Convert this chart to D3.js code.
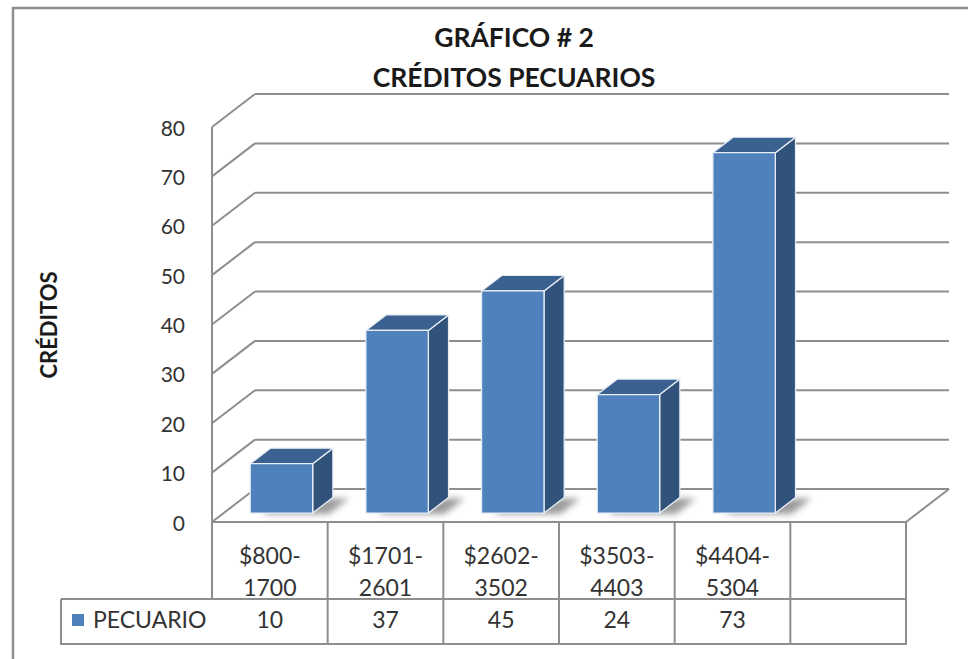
<!DOCTYPE html>
<html>
<head>
<meta charset="utf-8">
<script src="https://cdn.jsdelivr.net/npm/d3@7"></script>
<style>
  body { margin: 0; background: #fff; }
  text { font-family: Lato, "Open Sans", sans-serif; fill: #333; }
</style>
</head>
<body>
<div id="chart"></div>
<script>
// data
const categories = ["$800-1700", "$1701-2601", "$2602-3502", "$3503-4403", "$4404-5304", ""];
const seriesName = "PECUARIO";
const values = [10, 37, 45, 24, 73];
const yTicks = [0, 10, 20, 30, 40, 50, 60, 70, 80];
const titleLines = ["GRÁFICO # 2", "CRÉDITOS PECUARIOS"];
const yTitle = "CRÉDITOS";

const W = 968, H = 659;
const gridColor = "#8e8e8e";

const svg = d3.select("#chart").append("svg")
    .attr("width", W).attr("height", H);

const defs = svg.append("defs");
defs.append("filter").attr("id", "blur")
    .attr("x", "-50%").attr("y", "-50%").attr("width", "200%").attr("height", "200%")
  .append("feGaussianBlur").attr("stdDeviation", 3);

//scales
const x = d3.scaleBand().domain(categories).range([212, 906]).padding(0);
const y = d3.scaleLinear().domain([0, 80]).range([522, 127]);

//depth of the 3d box (offset of the back wall)
const depthX = 43, depthY = -33;
const proj = (px, py, z) => [px + z * depthX, py + z * depthY];

//outer frame
svg.append("path")
    .attr("d", `M13,${H} V8 H${W}`)
    .attr("fill", "none").attr("stroke", gridColor).attr("stroke-width", 2.5);

//title
svg.append("g").selectAll("text").data(titleLines).join("text")
    .attr("x", 514).attr("y", (d, i) => 47 + i * 40)
    .attr("text-anchor", "middle")
    .attr("font-size", 26.5).attr("font-weight", "bold")
    .style("fill", "#1a1a1a")
    .text(d => d);

//y axis title
svg.append("text")
    .attr("transform", "translate(57,325) rotate(-90)")
    .attr("text-anchor", "middle")
    .attr("font-size", 22).attr("font-weight", "bold")
    .style("fill", "#1a1a1a")
    .text(yTitle);

/* Walls */
const walls = svg.append("g").attr("fill", "none")
    .attr("stroke", gridColor).attr("stroke-width", 2);

//back wall gridlines
walls.selectAll(".grid").data(yTicks).join("line")
    .attr("x1", x.range()[0] + depthX).attr("x2", x.range()[1] + depthX)
    .attr("y1", d => y(d) + depthY).attr("y2", d => y(d) + depthY);

//side wall diagonals
walls.selectAll(".diag").data(yTicks).join("line")
    .attr("x1", x.range()[0]).attr("y1", d => y(d))
    .attr("x2", x.range()[0] + depthX).attr("y2", d => y(d) + depthY);

//floor: front edge and right edge
walls.append("path")
    .attr("d", d3.line()([
        [x.range()[0], y(0)],
        [x.range()[1], y(0)],
        [x.range()[1] + depthX, y(0) + depthY]
    ]));

//front vertical axis
walls.append("line")
    .attr("x1", x.range()[0]).attr("x2", x.range()[0])
    .attr("y1", y(80)).attr("y2", y(0));

//tick labels
svg.append("g").selectAll("text").data(yTicks).join("text")
    .attr("x", 185).attr("y", d => y(d) + 8.5)
    .attr("text-anchor", "end")
    .attr("font-size", 21)
    .text(d => d);

/* Bars */
const zFront = 0.27, zBack = 0.74;
const bars = svg.append("g").selectAll("g").data(values).join("g");

const geom = (v, i) => {
    const bw = x.bandwidth();
    const w = bw * 0.54;
    const xl = x(categories[i]) + (bw - w) / 2;
    return {xl, xr: xl + w, yt: y(v), yb: y(0)};
};
const poly = pts => "M" + pts.map(p => p.join(",")).join("L") + "Z";

//soft shadow on the floor
bars.append("path")
    .attr("d", (v, i) => {
        const g = geom(v, i);
        return poly([
            proj(g.xl + 6, g.yb, zFront), proj(g.xr + 10, g.yb, zFront),
            proj(g.xr + 10, g.yb, zBack), proj(g.xl + 6, g.yb, zBack)
        ]);
    })
    .attr("transform", "translate(6,1)")
    .attr("fill", "#7a7a7a").attr("opacity", 0.75)
    .attr("filter", "url(#blur)");

//side face
bars.append("path")
    .attr("d", (v, i) => {
        const g = geom(v, i);
        return poly([proj(g.xr, g.yt, zFront), proj(g.xr, g.yt, zBack),
                     proj(g.xr, g.yb, zBack), proj(g.xr, g.yb, zFront)]);
    })
    .attr("fill", "#31527a");

//top face
bars.append("path")
    .attr("d", (v, i) => {
        const g = geom(v, i);
        return poly([proj(g.xl, g.yt, zFront), proj(g.xl, g.yt, zBack),
                     proj(g.xr, g.yt, zBack), proj(g.xr, g.yt, zFront)]);
    })
    .attr("fill", "#3b6190");

//front face
bars.append("path")
    .attr("d", (v, i) => {
        const g = geom(v, i);
        return poly([proj(g.xl, g.yt, zFront), proj(g.xr, g.yt, zFront),
                     proj(g.xr, g.yb, zFront), proj(g.xl, g.yb, zFront)]);
    })
    .attr("fill", "#4f81bd");

bars.selectAll("path:not([filter])")
    .attr("stroke", "#e8eef6").attr("stroke-width", 1.3).attr("stroke-linejoin", "round");

/* Data table */
const rowTop = y(0), rowMid = 599, rowBottom = 644, tableLeft = 61;
const table = svg.append("g").attr("fill", "none")
    .attr("stroke", gridColor).attr("stroke-width", 2);

table.append("path")
    .attr("d", `M${x.range()[0]},${rowTop} V${rowMid} M${tableLeft},${rowMid} H${x.range()[1]}` +
               ` M${tableLeft},${rowMid} V${rowBottom} H${x.range()[1]} V${rowTop}`);

table.selectAll(".col").data(categories.slice(1)).join("line")
    .attr("x1", d => x(d)).attr("x2", d => x(d))
    .attr("y1", rowTop).attr("y2", rowBottom);

//category labels on two lines, broken after the hyphen
const catText = svg.append("g").selectAll("text").data(categories).join("text")
    .attr("x", d => x(d) + x.bandwidth() / 2)
    .attr("text-anchor", "middle")
    .attr("font-size", 23);
catText.selectAll("tspan")
    .data(d => d ? d.replace("-", "-\n").split("\n") : [])
    .join("tspan")
    .attr("x", function() { return this.parentNode.getAttribute("x"); })
    .attr("y", (d, i) => 564 + i * 32)
    .text(d => d);

//series row
svg.append("rect")
    .attr("x", 72).attr("y", 614).attr("width", 12).attr("height", 12)
    .attr("fill", "#4f81bd");
svg.append("text")
    .attr("x", 93).attr("y", 628)
    .attr("font-size", 23)
    .text(seriesName);

svg.append("g").selectAll("text").data(values).join("text")
    .attr("x", (d, i) => x(categories[i]) + x.bandwidth() / 2)
    .attr("y", 628)
    .attr("text-anchor", "middle")
    .attr("font-size", 23)
    .text(d => d);
</script>
</body>
</html>
